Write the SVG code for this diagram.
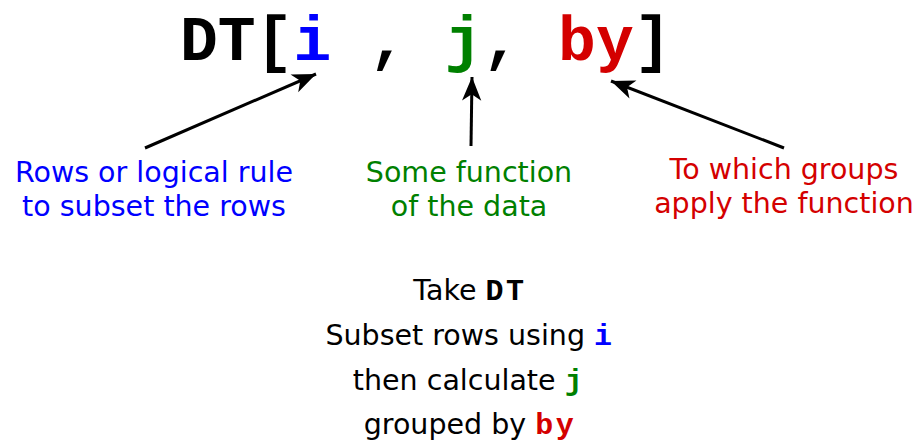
<svg xmlns="http://www.w3.org/2000/svg" width="917" height="442" viewBox="0 0 917 442">
<style>
.mono{font-family:"Liberation Mono","Courier New",monospace;font-weight:bold}
.sm{font-size:30px;letter-spacing:2.5px}
.lab{font-family:"DejaVu Sans",sans-serif;font-size:28.5px;text-anchor:middle}
.body{font-family:"DejaVu Sans",sans-serif;font-size:28.5px;text-anchor:middle;fill:#000}
.blue{fill:#0000ff}.green{fill:#008000}.red{fill:#d40000}
.conn{stroke:#000;stroke-width:3;fill:none;marker-end:url(#ah)}
</style>
<defs>
<marker id="ah" markerUnits="userSpaceOnUse" orient="auto" markerWidth="30" markerHeight="30" viewBox="-24 -12 28 24" refX="0" refY="0">
<path d="M0,0 L-22,-9 L-16,0 L-22,9 Z" fill="#000"/>
</marker>
</defs>
<rect width="917" height="442" fill="#fff"/>
<g id="title">
<text class="mono" x="180" y="60" font-size="63" xml:space="preserve">DT[<tspan class="blue">i</tspan> , <tspan class="green">j</tspan>, <tspan class="red">by</tspan>]</text>
</g>
<g id="connectors">
<line class="conn" x1="145" y1="148" x2="316" y2="74"/>
<line class="conn" x1="471" y1="146" x2="472" y2="77"/>
<line class="conn" x1="784" y1="148" x2="611" y2="81"/>
</g>
<g id="label-i">
<text class="lab blue" x="154" y="182">Rows or logical rule</text>
<text class="lab blue" x="154" y="216">to subset the rows</text>
</g>
<g id="label-j">
<text class="lab green" x="469" y="182">Some function</text>
<text class="lab green" x="469" y="216">of the data</text>
</g>
<g id="label-by">
<text class="lab red" x="784" y="179">To which groups</text>
<text class="lab red" x="784" y="213">apply the function</text>
</g>
<g id="summary">
<text class="body" x="470" y="300">Take <tspan class="mono sm">DT</tspan></text>
<text class="body" x="470" y="345">Subset rows using <tspan class="mono sm blue">i</tspan></text>
<text class="body" x="469" y="390">then calculate <tspan class="mono sm green">j</tspan></text>
<text class="body" x="470" y="434">grouped by <tspan class="mono sm red">by</tspan></text>
</g>
</svg>
